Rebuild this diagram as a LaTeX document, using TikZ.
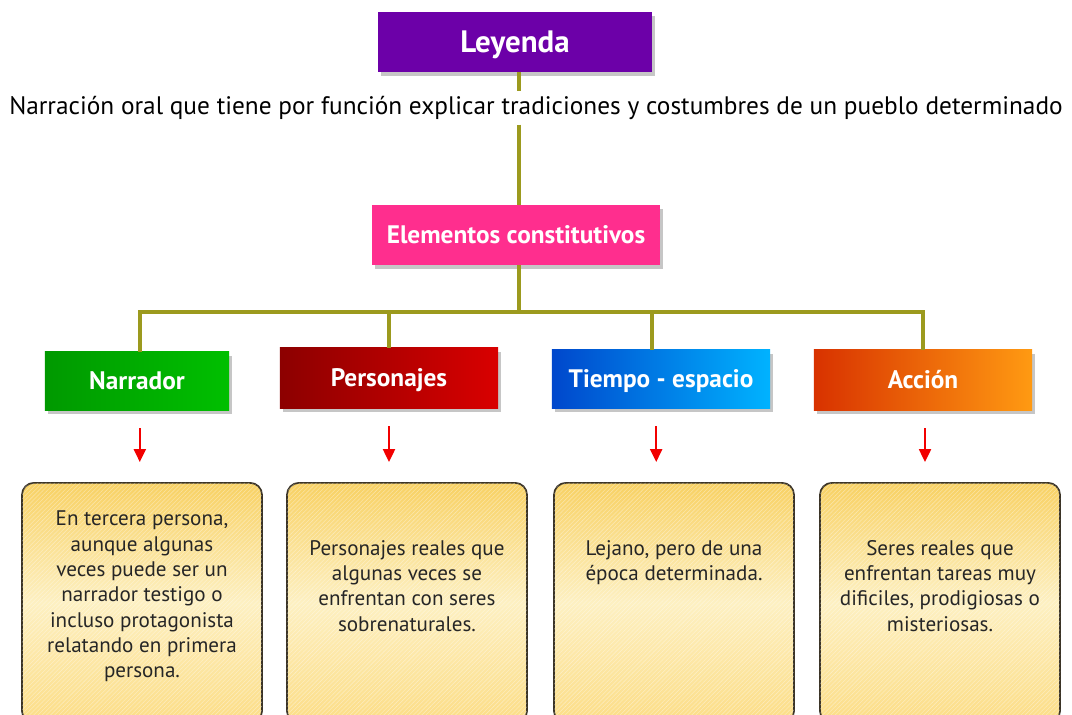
\documentclass[tikz,border=0pt]{standalone}
\usepackage{fontspec}
\setmainfont{PT Sans}
\usetikzlibrary{positioning, shadows, arrows.meta, patterns}

\definecolor{leypurple}{HTML}{6C00A8}
\definecolor{elempink}{HTML}{FF2E8E}
\definecolor{linkolive}{HTML}{9C9A1E}
\definecolor{boxborder}{HTML}{3A3326}
\definecolor{accleft}{HTML}{D83200}
\definecolor{accright}{HTML}{FF9A12}
\definecolor{boxtop}{HTML}{F8D163}
\definecolor{boxmid}{HTML}{FDF0C2}
\definecolor{boxbottom}{HTML}{FCDD86}

\tikzset{
	head/.style={minimum height=1.5cm, text=white, text height=13.5pt, text depth=1pt,
		font=\fontsize{18}{20}\selectfont\bfseries,
		drop shadow={shadow xshift=.07cm, shadow yshift=-.09cm, opacity=.45}},
	link/.style={linkolive, line width=3pt},
	down/.style={red!95!black, line width=1.3pt, -{Triangle[length=.32cm, width=.3cm]},
		shorten <=.45cm, shorten >=.5cm},
	descbox/.style={rounded corners=.3cm, draw=boxborder, line width=1.2pt, minimum width=6cm, minimum height=6cm,
		top color=boxtop, bottom color=boxbottom, middle color=boxmid,
		postaction={pattern=north east lines, pattern color=white, opacity=.35},
		drop shadow={shadow xshift=0cm, shadow yshift=-.05cm, opacity=.3}},
	desctext/.style={align=center, inner sep=0pt, text=black!85, font=\fontsize{15}{18}\selectfont}
}

\begin{document}
\begin{tikzpicture}[x=0.025cm, y=-0.025cm]
	\useasboundingbox (0,0) rectangle (1072,715);

	\node[head, fill=leypurple, minimum width=6.85cm, text height=16.5pt, font=\fontsize{22}{24}\selectfont\bfseries] (ley) at (515,42) {Leyenda};
	\node[font=\fontsize{18}{20}\selectfont] (def) at (536,108) {Narración oral que tiene por función explicar tradiciones y costumbres de un pueblo determinado};
	\node[head, fill=elempink, minimum width=7.2cm] (elem) at (516,235) {Elementos constitutivos};

	\node[head, minimum width=4.6cm, minimum height=1.45cm, left color=green!60!black, right color=green!75!black] (narr) at (137,381) {Narrador};
	\node[head, minimum width=5.45cm, left color=red!55!black, right color=red!85!black] (pers) at (389,378) {Personajes};
	\node[head, minimum width=5.45cm, minimum height=1.45cm, left color=blue!65!cyan!80!black, right color=cyan!70!blue] (tiem) at (661,379) {Tiempo - espacio};
	\node[head, minimum width=5.45cm, left color=accleft, right color=accright] (acc) at (923,380) {Acción};

	\coordinate (bar) at (519,312);
	\draw[link] ([xshift=.1cm]ley.south) -- ([xshift=.1cm]ley.south |- def.north);
	\draw[link] (bar |- def.south) -- (bar |- elem.north);
	\draw[link] (bar |- elem.south) -- (bar);
	\draw[link] ([xshift=.07cm]narr.north) |- (bar);
	\draw[link] (pers.north) |- (bar);
	\draw[link] ([xshift=-.22cm]tiem.north) |- (bar);
	\draw[link] (acc.north) |- (bar);

	% description boxes
	\node[descbox, anchor=north] (d1) at (142,482) {};
	\node[descbox, anchor=north] (d2) at (407,482) {};
	\node[descbox, anchor=north] (d3) at (674,482) {};
	\node[descbox, anchor=north] (d4) at (940,482) {};

	\node[desctext, anchor=north] (t1) at ([yshift=-.72cm]d1.north) {En tercera persona,\\ aunque algunas\\ veces puede ser un\\ narrador testigo o\\ incluso protagonista\\ relatando en primera\\ persona.};
	\node[desctext, anchor=north] (t2) at ([yshift=-1.45cm]d2.north) {Personajes reales que\\ algunas veces se\\ enfrentan con seres\\ sobrenaturales.};
	\node[desctext, anchor=north] (t3) at ([yshift=-1.45cm]d3.north) {Lejano, pero de una\\ época determinada.};
	\node[desctext, anchor=north] (t4) at ([yshift=-1.45cm]d4.north) {Seres reales que\\ enfrentan tareas muy\\ dificiles, prodigiosas o\\ misteriosas.};

	\draw[down] ([xshift=.07cm]narr.south) -- ([xshift=.07cm]narr.south |- d1.north);
	\draw[down] (pers.south) -- (pers.south |- d2.north);
	\draw[down] ([xshift=-.12cm]tiem.south) -- ([xshift=-.12cm]tiem.south |- d3.north);
	\draw[down] ([xshift=.05cm]acc.south) -- ([xshift=.05cm]acc.south |- d4.north);
\end{tikzpicture}
\end{document}
